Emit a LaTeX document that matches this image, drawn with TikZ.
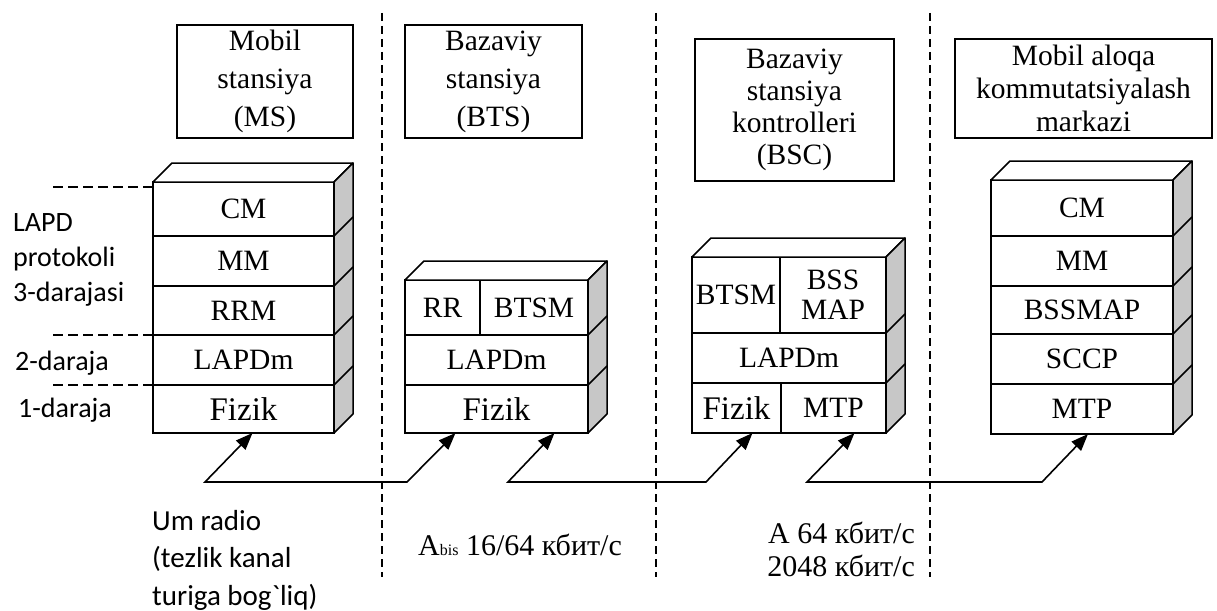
\documentclass[tikz,border=0pt]{standalone}
\usepackage{fontspec}
\setmainfont{Liberation Serif}
\newfontfamily\labelfont{Carlito}
\usepackage{tikz}
\usetikzlibrary{positioning,arrows.meta,calc}

\newcommand{\fizsize}{\fontsize{33}{35}\selectfont}

% top and side faces of a protocol stack
\newcommand{\stackdepth}[3]{%
  \draw[face] (#1.north west) -- ++(19,-19) -- ($(#2.north east)+(19,-19)$) -- (#2.north east) -- cycle;
  \draw[face,fill=black!22] (#2.north east) -- ++(19,-19) -- ($(#3.south east)+(19,-19)$) -- (#3.south east) -- cycle;
}

\begin{document}
\begin{tikzpicture}[
       x=1pt, y=-1pt,
       layer/.style={
           draw,
           line width=1.5pt,
           inner sep=0pt,
           outer sep=0pt,
           anchor=north west,
           font=\fontsize{29.5}{30}\selectfont
       },
       header/.style={
           draw,
           line width=1.5pt,
           inner sep=0pt,
           outer sep=0pt,
           anchor=north west,
           align=center
       },
       face/.style={draw, line width=1.5pt, fill=white, line join=round},
       rim/.style={line width=1.5pt},
       divider/.style={line width=1.3pt, dash pattern=on 8pt off 5pt},
       guide/.style={line width=1.3pt, dash pattern=on 10pt off 5pt},
       level/.style={anchor=west, align=left, inner sep=0pt, font=\labelfont\fontsize{28}{35}\selectfont},
       rate/.style={inner sep=0pt, font=\fontsize{30}{33}\selectfont},
       link/.style={line width=1.6pt, {Triangle[length=17pt,width=13pt]}-{Triangle[length=17pt,width=13pt]}}
   ]

   \useasboundingbox (0,0) rectangle (1217,610);

   % Dividers
   \foreach \x in {382,656,930}
       \draw[divider] (\x,13) -- (\x,577);


   % Headers
   \node[header, minimum width=176pt, minimum height=113pt, font=\fontsize{29.5}{38}\selectfont] (ms) at (177,25) {Mobil\\stansiya\\(MS)};
   \node[header, minimum width=177pt, minimum height=113pt, font=\fontsize{29.5}{38}\selectfont] (bts) at (405,25) {Bazaviy\\stansiya\\(BTS)};
   \node[header, minimum width=199pt, minimum height=142pt, font=\fontsize{29.5}{32}\selectfont] (bsc) at (695,39) {Bazaviy\\stansiya\\kontrolleri\\(BSC)};
   \node[header, minimum width=257pt, minimum height=99pt, font=\fontsize{29.5}{33}\selectfont] (msc) at (955,39) {Mobil aloqa\\kommutatsiyalash\\markazi};


   % MS stack
   \node[layer, minimum width=181pt, minimum height=54pt] (mscm) at (153,182) {CM};
   \node[layer, minimum width=181pt, minimum height=50pt] (msmm) at (153,236) {MM};
   \node[layer, minimum width=181pt, minimum height=49pt] (msrrm) at (153,286) {RRM};
   \node[layer, minimum width=181pt, minimum height=50pt] (mslapd) at (153,335) {LAPDm};
   \node[layer, minimum width=181pt, minimum height=48pt, font=\fizsize] (msfiz) at (153,385) {Fizik};
   \stackdepth{mscm}{mscm}{msfiz}
   \foreach \n in {mscm,msmm,msrrm,mslapd}
       \draw[rim] (\n.south east) -- ++(19,-19);


   % BTS stack
   \node[layer, minimum width=75pt, minimum height=55pt] (btsrr) at (405,280) {RR};
   \node[layer, minimum width=108pt, minimum height=55pt] (btsm) at (480,280) {BTSM};
   \node[layer, minimum width=183pt, minimum height=50pt] (btslapd) at (405,335) {LAPDm};
   \node[layer, minimum width=183pt, minimum height=48pt, font=\fizsize] (btsfiz) at (405,385) {Fizik};
   \stackdepth{btsrr}{btsm}{btsfiz}
   \foreach \n in {btsm,btslapd}
       \draw[rim] (\n.south east) -- ++(19,-19);


   % BSC stack
   \node[layer, minimum width=88pt, minimum height=76pt] (bscbtsm) at (692,257) {BTSM};
   \node[layer, minimum width=106pt, minimum height=76pt, align=center] (bscmap) at (780,257) {BSS\\MAP};
   \node[layer, minimum width=194pt, minimum height=50pt] (bsclapd) at (692,333) {LAPDm};
   \node[layer, minimum width=89pt, minimum height=50pt, font=\fizsize] (bscfiz) at (692,383) {Fizik};
   \node[layer, minimum width=105pt, minimum height=50pt] (bscmtp) at (781,383) {MTP};
   \stackdepth{bscbtsm}{bscmap}{bscmtp}
   \foreach \n in {bscmap,bsclapd}
       \draw[rim] (\n.south east) -- ++(19,-19);


   % MSC stack
   \node[layer, minimum width=182pt, minimum height=56pt] (msccm) at (991,180) {CM};
   \node[layer, minimum width=182pt, minimum height=50pt] (mscmm) at (991,236) {MM};
   \node[layer, minimum width=182pt, minimum height=48pt] (mscmap) at (991,286) {BSSMAP};
   \node[layer, minimum width=182pt, minimum height=50pt] (mscsccp) at (991,334) {SCCP};
   \node[layer, minimum width=182pt, minimum height=50pt] (mscmtp) at (991,384) {MTP};
   \stackdepth{msccm}{msccm}{mscmtp}
   \foreach \n in {msccm,mscmm,mscmap,mscsccp}
       \draw[rim] (\n.south east) -- ++(19,-19);


   % Levels
   \node[level] (lvl3) at (13,260) {LAPD\\protokoli\\3-darajasi};
   \node[level] (lvl2) at (15,363) {2-daraja};
   \node[level] (lvl1) at (18,410) {1-daraja};

   \coordinate (g3) at (53,187);
   \coordinate (g2) at (53,335);
   \coordinate (g1) at (53,385);
   \draw[guide] (g3) -- (g3 -| mscm.west);
   \draw[guide] (g2) -- (mslapd.north west);
   \draw[guide] (g1) -- (msfiz.north west);


   % Links
   \coordinate (b1) at (205,482);
   \coordinate (b2) at (407,482);
   \coordinate (b3) at (508,482);
   \coordinate (b4) at (706,482);
   \coordinate (b5) at (807,482);
   \coordinate (b6) at (1042,482);

   \draw[link] ([xshift=9pt]msfiz.south) -- (b1) -- (b2) -- ([xshift=-41pt]btsfiz.south);
   \draw[link] ([xshift=58pt]btsfiz.south) -- (b3) -- (b4) -- ([xshift=16pt]bscfiz.south);
   \draw[link] ([xshift=21pt]bscmtp.south) -- (b5) -- (b6) -- ([xshift=6pt]mscmtp.south);


   % Interface labels
   \node[level, font=\labelfont\fontsize{29}{37.5}\selectfont] (um) at (152,560) {Um radio\\(tezlik kanal\\turiga bog\textasciigrave liq)};
   \node[rate, anchor=west] (abis) at (418,545) {A{\fontsize{16}{16}\selectfont bis} 16/64 кбит/с};
   \node[rate, anchor=east, align=right] (arate) at (915,549) {A 64 кбит/с\\2048 кбит/с};

   \end{tikzpicture}
\end{document}
